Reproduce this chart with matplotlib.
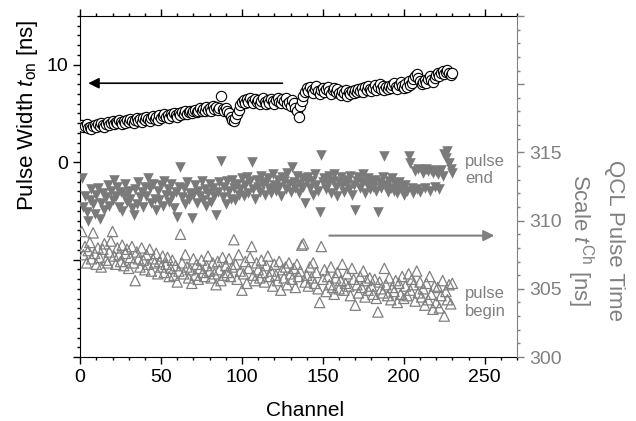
import numpy as np
import matplotlib
matplotlib.use('Agg')
import matplotlib.pyplot as plt
from matplotlib.ticker import MultipleLocator, FuncFormatter

plt.rcParams['font.family'] = ['Liberation Sans', 'DejaVu Sans']
plt.rcParams['mathtext.fontset'] = 'custom'
plt.rcParams['mathtext.rm'] = 'Liberation Sans'
plt.rcParams['mathtext.it'] = 'Liberation Sans:italic'

GRAY = '#808080'

# channel numbers (1..230)
channel = np.arange(1, 231)

# pulse width t_on [ns], left axis
width_on = [
    3.8, 3.6, 3.7, 3.9, 3.5, 3.6, 3.4, 3.7, 3.8, 3.6,
    3.9, 3.7, 4.0, 3.8, 3.6, 3.9, 4.1, 3.8, 4.0, 4.2,
    3.9, 4.1, 4.0, 4.3, 4.1, 3.9, 4.2, 4.0, 4.3, 4.1,
    4.4, 4.2, 4.0, 4.3, 4.5, 4.2, 4.4, 4.1, 4.5, 4.3,
    4.6, 4.4, 4.2, 4.5, 4.7, 4.4, 4.6, 4.3, 4.8, 4.5,
    4.7, 4.9, 4.6, 4.8, 4.5, 4.9, 4.7, 5.0, 4.8, 4.6,
    5.0, 4.8, 5.1, 4.9, 5.2, 4.9, 5.1, 5.3, 5.0, 5.2,
    5.4, 5.1, 5.3, 5.6, 5.2, 5.5, 5.3, 5.7, 5.4, 5.6,
    5.3, 5.8, 5.5, 5.7, 5.4, 5.6, 6.8, 5.5, 5.3, 5.6,
    5.2, 5.0, 4.6, 4.3, 4.2, 4.5, 4.9, 5.4, 5.9, 6.2,
    6.4, 6.1, 6.5, 6.2, 6.6, 6.3, 6.1, 6.5, 6.2, 6.4,
    6.0, 6.3, 6.6, 6.2, 6.0, 6.4, 6.1, 6.5, 6.3, 6.0,
    6.4, 6.6, 6.2, 6.1, 6.5, 6.3, 6.6, 6.0, 6.2, 5.8,
    6.4, 6.1, 5.6, 5.3, 4.6, 5.8, 6.3, 6.8, 7.2, 7.6,
    7.3, 7.7, 7.4, 7.1, 7.5, 7.8, 7.3, 7.0, 7.4, 7.6,
    7.2, 7.5, 7.7, 7.3, 7.0, 7.4, 7.6, 7.2, 7.5, 7.1,
    6.9, 7.3, 7.1, 7.4, 6.8, 7.2, 7.0, 7.3, 7.1, 7.4,
    7.2, 7.5, 7.3, 7.6, 7.2, 7.7, 7.4, 7.8, 7.5, 7.3,
    7.6, 7.9, 7.4, 7.7, 8.0, 7.5, 7.8, 7.4, 7.7, 7.5,
    7.8, 7.6, 7.9, 8.1, 7.7, 7.5, 7.9, 8.2, 7.8, 7.6,
    8.0, 7.7, 8.3, 7.9, 8.1, 8.5, 8.8, 9.0, 8.6, 8.3,
    8.0, 8.2, 8.4, 8.1, 8.5, 8.8, 8.4, 8.2, 8.6, 8.9,
    9.1, 8.8, 9.2, 9.4, 9.0, 9.3, 9.5, 9.2, 8.9, 9.2,
]

# pulse end time [ns], right axis
pulse_end = [
    313.1, 311.0, 311.8, 310.6, 310.0, 311.5, 312.3, 311.2, 310.5, 311.9,
    312.4, 310.1, 311.3, 312.0, 310.8, 311.7, 312.6, 311.1, 312.2, 311.5,
    313.0, 311.8, 312.5, 311.0, 312.1, 310.7, 311.9, 312.7, 311.4, 312.2,
    311.6, 310.9, 310.4, 312.3, 311.2, 312.8, 311.7, 312.1, 311.0, 312.5,
    311.8, 313.1, 312.4, 311.3, 312.7, 311.6, 310.8, 312.2, 311.5, 312.6,
    311.1, 312.9, 311.9, 312.3, 311.4, 312.7, 311.8, 310.9, 312.1, 310.3,
    312.5, 313.9, 311.7, 312.4, 311.2, 312.8, 311.6, 312.0, 310.2, 311.9,
    312.6, 311.3, 312.2, 311.8, 312.9, 311.5, 312.3, 311.1, 312.0, 312.7,
    311.4, 312.4, 311.8, 310.4, 312.1, 312.8, 314.4, 311.7, 312.5, 311.2,
    312.9, 312.2, 311.6, 313.0, 312.4, 311.5, 312.7, 311.9, 312.3, 313.1,
    311.8, 312.6, 313.2, 312.0, 312.9, 314.3, 312.3, 311.6, 313.0, 312.5,
    312.1, 313.3, 312.7, 311.9, 312.8, 313.1, 312.4, 312.0, 313.4, 312.6,
    312.2, 313.0, 312.5, 311.8, 313.2, 312.9, 312.3, 313.5, 312.7, 312.1,
    313.9, 312.8, 312.4, 313.3, 312.0, 312.7, 313.1, 312.5, 311.3, 312.9,
    313.2, 312.4, 312.9, 311.9, 313.4, 312.6, 312.2, 310.6, 314.8, 312.8,
    313.1, 312.3, 312.7, 313.3, 312.0, 312.9, 313.4, 312.5, 311.8, 312.8,
    313.2, 312.6, 312.1, 313.0, 312.7, 312.3, 313.3, 311.9, 312.6, 310.8,
    312.9, 313.2, 312.4, 312.8, 313.4, 312.0, 312.7, 313.1, 312.3, 312.9,
    312.5, 313.0, 312.2, 310.6, 312.8, 312.4, 313.2, 314.7, 312.6, 312.1,
    312.9, 312.4, 313.1, 312.2, 312.7, 312.0, 312.8, 312.3, 312.5, 311.9,
    312.6, 312.2, 314.7, 314.2, 312.4, 312.0, 313.6, 312.3, 313.8, 312.1,
    313.7, 313.5, 312.4, 313.8, 313.6, 312.2, 313.7, 313.5, 312.5, 313.6,
    313.4, 312.3, 313.7, 313.3, 314.9, 314.6, 315.1, 314.2, 313.8, 313.5,
]

# pulse begin time [ns], right axis
pulse_begin = [
    309.2, 307.5, 308.1, 306.9, 307.8, 308.4, 307.2, 309.1, 307.6, 306.8,
    308.0, 307.3, 306.6, 307.9, 308.3, 307.1, 306.9, 307.7, 308.5, 309.2,
    307.4, 306.8, 308.0, 307.5, 307.0, 308.2, 306.7, 307.6, 307.9, 306.5,
    307.3, 308.1, 306.9, 305.6, 307.7, 307.2, 306.6, 308.0, 307.1, 306.4,
    307.5, 306.8, 307.9, 306.3, 307.2, 306.9, 307.6, 306.1, 307.0, 306.6,
    307.4, 306.2, 306.8, 307.3, 305.9, 306.5, 307.1, 306.0, 306.7, 305.5,
    306.3, 309.0, 306.9, 306.1, 307.5, 306.6, 305.8, 306.4, 305.4, 307.2,
    306.0, 306.8, 305.7, 306.5, 307.1, 306.2, 305.9, 306.7, 307.4, 306.3,
    305.8, 306.9, 306.1, 305.3, 307.0, 306.4, 305.6, 307.3, 306.0, 306.7,
    306.2, 307.2, 305.9, 306.6, 308.6, 306.8, 305.7, 307.5, 306.3, 304.9,
    306.1, 307.0, 305.4, 306.5, 307.3, 308.1, 306.0, 305.6, 306.9, 306.4,
    305.8, 307.1, 306.2, 305.5, 306.7, 307.4, 305.9, 306.3, 305.2, 306.8,
    306.0, 305.6, 307.0, 304.9, 306.4, 305.8, 306.6, 305.3, 306.9, 306.1,
    305.7, 306.5, 305.1, 306.8, 305.9, 306.3, 308.2, 308.3, 305.5, 306.0,
    305.2, 306.6, 305.8, 306.9, 305.4, 306.2, 305.0, 304.0, 308.1, 305.7,
    306.4, 304.8, 305.9, 305.3, 306.6, 305.1, 304.6, 305.8, 306.2, 305.0,
    305.6, 306.8, 304.9, 305.4, 306.1, 305.2, 304.5, 306.5, 305.7, 303.8,
    305.3, 304.7, 305.9, 305.1, 306.3, 304.4, 305.6, 304.9, 305.8, 305.2,
    304.6, 305.7, 304.3, 303.3, 305.5, 305.0, 304.7, 306.5, 305.3, 304.5,
    305.8, 304.2, 305.1, 304.8, 305.6, 304.0, 305.4, 304.6, 305.9, 304.3,
    305.2, 304.5, 306.1, 304.9, 305.7, 305.3, 304.1, 306.3, 304.7, 305.5,
    304.4, 305.0, 303.8, 305.4, 304.2, 305.9, 304.6, 303.5, 305.2, 304.0,
    305.1, 303.6, 304.5, 305.6, 303.0, 304.8, 304.2, 305.3, 303.9, 305.4,
]

fig = plt.figure(figsize=(6.36, 4.21), dpi=100)
ax = fig.add_axes([0.126, 0.152, 0.687, 0.81])
ax2 = ax.twinx()

ax.scatter(channel, width_on, s=55, facecolor='white', edgecolor='black',
           linewidth=0.8, zorder=3)
ax2.scatter(channel, pulse_end, s=58, marker='v', color='#7a7a7a',
            linewidth=0, zorder=3)
ax2.scatter(channel, pulse_begin, s=55, marker='^', facecolor='none',
            edgecolor=GRAY, linewidth=0.9, zorder=3)

ax.set_xlim(0, 270)
ax.set_ylim(-20, 15)
ax2.set_ylim(300, 325)

ax.xaxis.set_major_locator(MultipleLocator(50))
ax.xaxis.set_minor_locator(MultipleLocator(10))
ax.yaxis.set_major_locator(MultipleLocator(10))
ax.yaxis.set_minor_locator(MultipleLocator(1))
ax.yaxis.set_major_formatter(FuncFormatter(lambda v, p: f'{v:.0f}' if v >= 0 else ''))
ax2.yaxis.set_major_locator(MultipleLocator(5))
ax2.yaxis.set_minor_locator(MultipleLocator(1))
ax2.yaxis.set_major_formatter(FuncFormatter(lambda v, p: f'{v:.0f}' if v <= 315 else ''))

ax.tick_params(which='both', direction='out', top=True, labelsize=14, width=1)
ax.tick_params(which='major', length=5)
ax.tick_params(which='minor', length=2.5)
ax2.tick_params(which='both', direction='out', colors=GRAY, labelsize=14, width=1)
ax2.tick_params(which='major', length=5)
ax2.tick_params(which='minor', length=2.5)
ax2.spines['right'].set_color(GRAY)
for sp in ['left', 'bottom', 'top']:
    ax2.spines[sp].set_visible(False)
ax.spines['right'].set_visible(False)

ax.set_xlabel('Channel', fontsize=15, labelpad=6)
ax.xaxis.set_label_coords(0.515, -0.13)

fig.text(28 / 636, 1 - 115 / 421, r'Pulse Width $t_{\rm on}$ [ns]', fontsize=16,
         rotation=90, ha='center', va='center')
fig.text(595 / 636, 1 - 240 / 421, 'QCL Pulse Time\n' + r'Scale $t^{\rm Ch}$ [ns]',
         fontsize=16, color=GRAY, rotation=270, ha='center', va='center',
         linespacing=1.4, multialignment='center')

ax.annotate('', xy=(5, 8.1), xytext=(125, 8.1),
            arrowprops=dict(arrowstyle='-|>', color='black', lw=1.2,
                            mutation_scale=16, shrinkA=0, shrinkB=0))
ax2.annotate('', xy=(256, 308.9), xytext=(154, 308.9),
             arrowprops=dict(arrowstyle='-|>', color=GRAY, lw=1.5,
                             mutation_scale=16, shrinkA=0, shrinkB=0))

ax2.text(238, 313.7, 'pulse\nend', fontsize=12, color=GRAY, va='center',
         ha='left', linespacing=1.2)
ax2.text(238, 304.0, 'pulse\nbegin', fontsize=12, color=GRAY, va='center',
         ha='left', linespacing=1.2)

fig.savefig('out.png', dpi=100, facecolor='white')
